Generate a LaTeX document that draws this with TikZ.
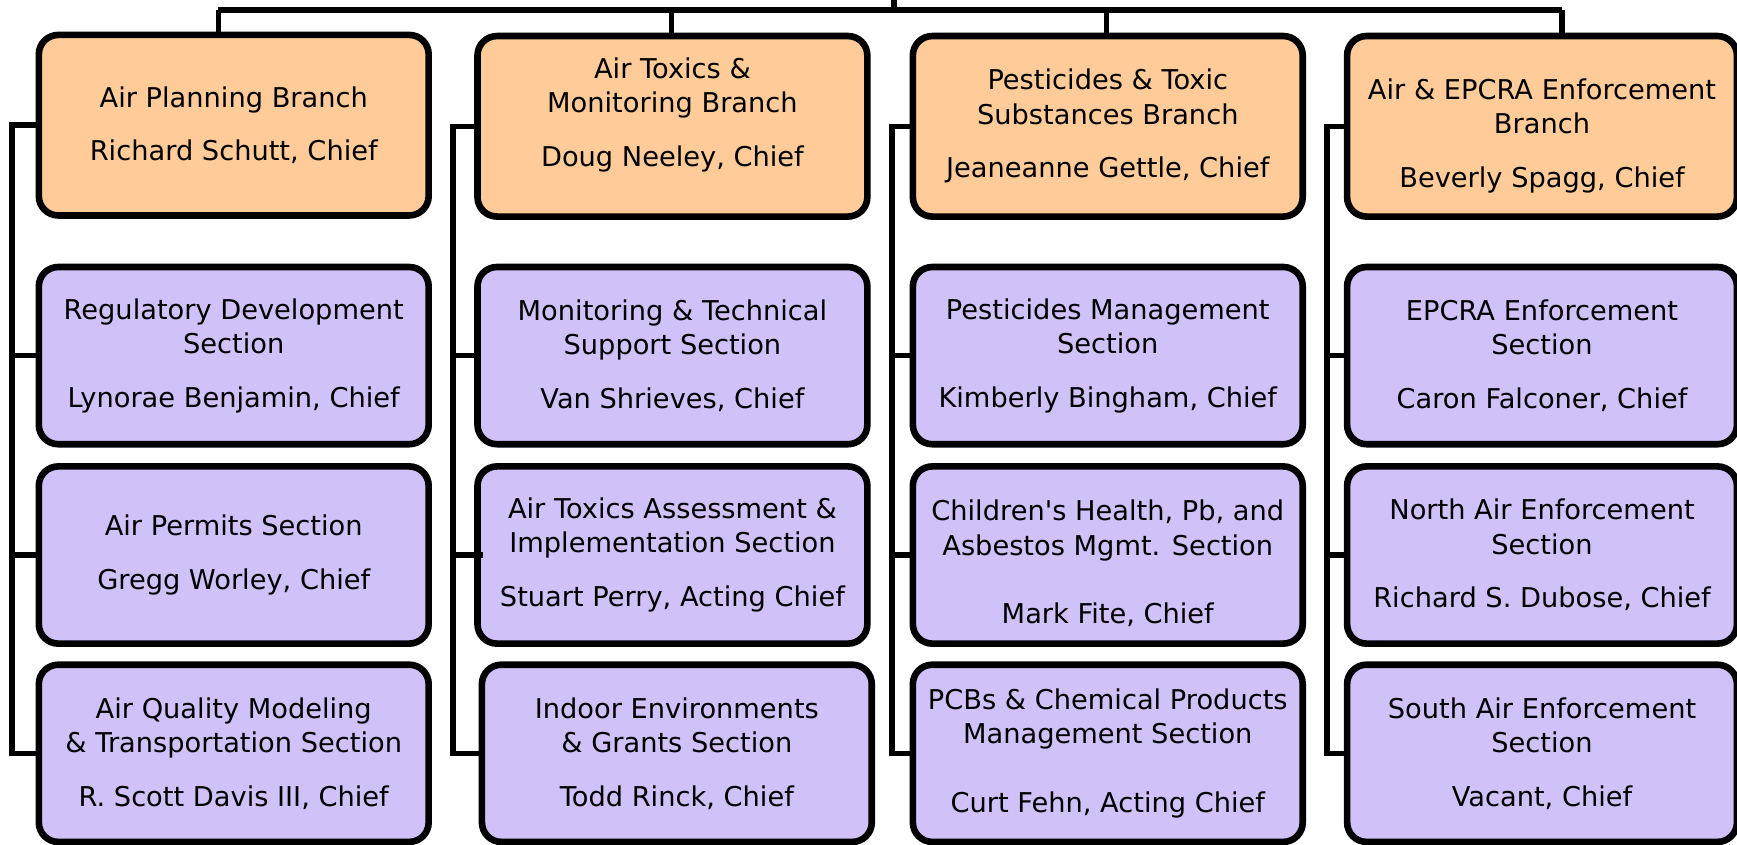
\documentclass[tikz,border=0pt]{standalone}
\usepackage{fontspec}
\newfontfamily\orgfont{DejaVu Sans}
\definecolor{branchorange}{RGB}{255,204,153}
\definecolor{sectionlilac}{RGB}{208,193,248}
\tikzset{
  boxtext/.style={align=center, inner sep=2pt, text=black, font=\orgfont\fontsize{14}{17.6}\selectfont},
  unitbox/.style={boxtext, draw=black, line width=3.4pt, rounded corners=10pt},
  branchbox/.style={unitbox, fill=branchorange, minimum width=7.04cm, minimum height=3.26cm},
  sectionbox/.style={unitbox, fill=sectionlilac, minimum width=7.04cm, minimum height=3.2cm},
  link/.style={line width=2.8pt}
}
\begin{document}
\begin{tikzpicture}[x=0.02cm, y=-0.02cm]
  \useasboundingbox (0,0) rectangle (1568,762);

  % Branches
  \node[branchbox] (ap-b) at (211,113) {Air Planning Branch\\[10pt]Richard Schutt, Chief};
  \node[branchbox, label={[boxtext, yshift=5.7pt]center:{Air Toxics \&\\Monitoring Branch\\[10pt]Doug Neeley, Chief}}]
    (at-b) at (607,114) {};
  \node[branchbox] (pt-b) at (1000,114) {Pesticides \& Toxic\\Substances Branch\\[10pt]Jeaneanne Gettle, Chief};
  \node[branchbox, label={[boxtext, yshift=-5pt]center:{Air \& EPCRA Enforcement\\Branch\\[10pt]Beverly Spagg, Chief}}]
    (ae-b) at (1392,114) {};

  % Air Planning sections
  \node[sectionbox] (ap-1) at (211,321) {Regulatory Development\\Section\\[10pt]Lynorae Benjamin, Chief};
  \node[sectionbox] (ap-2) at (211,501) {Air Permits Section\\[10pt]Gregg Worley, Chief};
  \node[sectionbox] (ap-3) at (211,680) {Air Quality Modeling\\\& Transportation Section\\[10pt]R. Scott Davis III, Chief};

  % Air Toxics sections
  \node[sectionbox] (at-1) at (607,321) {Monitoring \& Technical\\Support Section\\[10pt]Van Shrieves, Chief};
  \node[sectionbox] (at-2) at (607,501) {Air Toxics Assessment \&\\Implementation Section\\[10pt]Stuart Perry, Acting Chief};
  \node[sectionbox] (at-3) at (611,680) {Indoor Environments\\\& Grants Section\\[10pt]Todd Rinck, Chief};

  % Pesticides sections
  \node[sectionbox] (pt-1) at (1000,321) {Pesticides Management\\Section\\[10pt]Kimberly Bingham, Chief};
  \node[sectionbox, label={[boxtext, yshift=-4.3pt]center:{Children's Health, Pb, and\\Asbestos Mgmt. Section\\[17.6pt]Mark Fite, Chief}}]
    (pt-2) at (1000,501) {};
  \node[sectionbox] (pt-3) at (1000,680) {PCBs \& Chemical Products\\Management Section\\[17.6pt]Curt Fehn, Acting Chief};

  % Enforcement sections
  \node[sectionbox] (ae-1) at (1392,321) {EPCRA Enforcement\\Section\\[10pt]Caron Falconer, Chief};
  \node[sectionbox] (ae-2) at (1392,501) {North Air Enforcement\\Section\\[10pt]Richard S. Dubose, Chief};
  \node[sectionbox] (ae-3) at (1392,680) {South Air Enforcement\\Section\\[10pt]Vacant, Chief};

  % Top of the tree
  \coordinate (office) at (807,0);
  \coordinate (hub) at (807,9);
  \coordinate (hub-w) at (197,9);
  \coordinate (hub-e) at (1410,9);
  \draw[link] (office) -- (hub);
  \draw[link] (hub-w) -- (hub-e);
  \foreach \x/\b in {197/ap, 606/at, 999/pt, 1410/ae}
    \draw[link] (\x,9) -- (\x,9 |- \b-b.north);

  % Spines down each column
  \foreach \b/\s in {ap/11, at/409, pt/805, ae/1198} {
    \draw[link] (\b-b.west) -- (\s,0 |- \b-b.west) |- (\b-3.west);
    \draw[link] (\s,0 |- \b-1.west) -- (\b-1.west);
    \draw[link] (\s,0 |- \b-2.west) -- (\b-2.west);
  }
  \draw[link] (at-2.west) -- ++(8,0);
\end{tikzpicture}
\end{document}
